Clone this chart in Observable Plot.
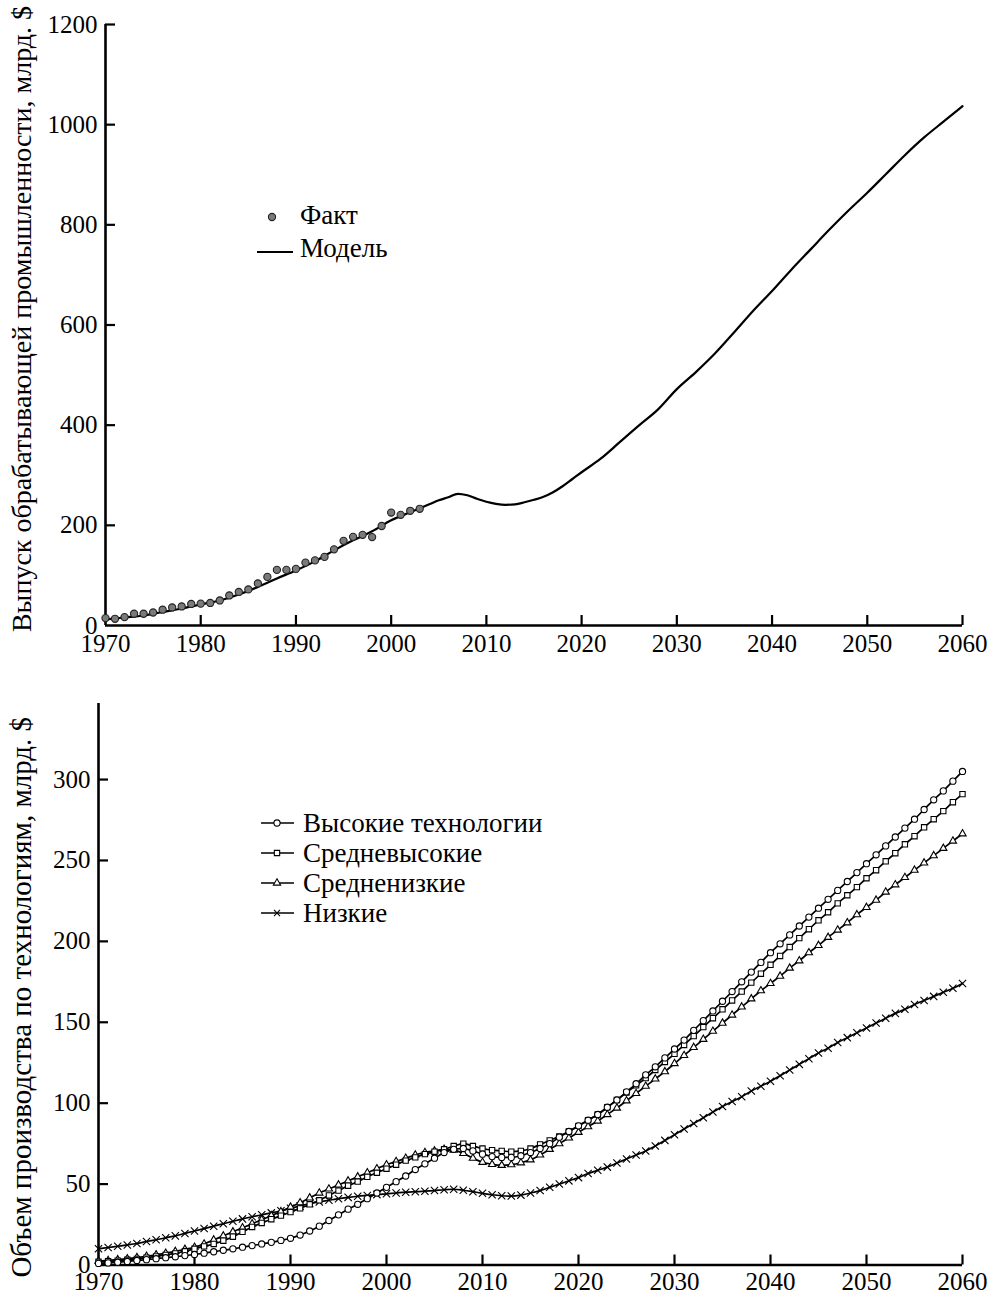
<!DOCTYPE html>
<html><head><meta charset="utf-8">
<script src="https://cdn.jsdelivr.net/npm/d3@7"></script>
<script src="https://cdn.jsdelivr.net/npm/@observablehq/plot@0.6"></script>
<style>
body{margin:0;background:#fff;}
#wrap{position:relative;width:989px;height:1293px;font-family:"Liberation Serif",Tinos,"Times New Roman","DejaVu Serif","Noto Serif",serif;color:#000;overflow:hidden;}
.lg{position:absolute;white-space:nowrap;line-height:30px;height:30px;color:#000;}
.lgs{position:absolute;}
</style></head><body><div id="wrap"></div>
<script>
// ---------- DATA ----------
const xTicks = [1970, 1980, 1990, 2000, 2010, 2020, 2030, 2040, 2050, 2060];
const topYTicks = [0, 200, 400, 600, 800, 1000, 1200];
const bottomYTicks = [0, 50, 100, 150, 200, 250, 300];

const topYLabel = "Выпуск обрабатывающей промышленности, млрд. $";
const bottomYLabel = "Объем производства по технологиям, млрд. $";

const topLegend = ["Факт", "Модель"];
const seriesNames = ["Высокие технологии", "Средневысокие", "Средненизкие", "Низкие"];

// Fact (1970..2003)
const factYears = [1970,1971,1972,1973,1974,1975,1976,1977,1978,1979,1980,1981,1982,1983,1984,1985,1986,1987,1988,1989,1990,1991,1992,1993,1994,1995,1996,1997,1998,1999,2000,2001,2002,2003];
const factValues = [14.8,13.4,16.8,23.5,23.5,26,31.5,36,38,43,43.6,45,50,60,67,72,84,97,111,111,113,125.5,130,137,152,169,177,181,176.5,198.7,225.5,221,229,233];

// Model
const modelYears = [1970,1972,1974,1976,1978,1980,1982,1984,1986,1988,1990,1992,1994,1996,1998,2000,2002,2004,2005,2006,2007,2008,2009,2010,2011,2012,2013,2014,2015,2016,2017,2018,2019,2020,2022,2024,2026,2028,2030,2032,2034,2036,2038,2040,2042,2044,2046,2048,2050,2052,2054,2056,2058,2060];
const modelValues = [12,16,20,27,34,42,50,62,77,94,110,128,150,170,188,210,226,242,250,256,263,260,253,247,243,241,242,246,251,257,266,278,292,306,333,366,399,431,472,506,543,585,628,668,710,750,790,828,864,902,940,975,1006,1037];

// Bottom chart (yearly 1970..2060)
const techYears = d3.range(1970, 2061);
const highTech = [
 1.0,1.3,1.7,2.2,2.8,3.3,3.9,4.5,5.1,5.8,
 6.5,7.3,8.2,9.1,10.0,11.0,12.0,13.0,14.0,15.2,
 16.5,18.5,21.0,24.0,27.5,31.0,34.5,37.5,41.0,44.5,
 48.0,51.5,55.0,59.0,62.5,66.0,69.5,71.5,72.0,70.5,
 68.5,67.0,66.5,66.5,67.5,69.5,72.0,75.0,79.0,82.5,
 86.0,89.5,93.0,97.5,102.0,107.0,112.0,117.5,122.5,128.0,
 133.5,139.0,145.0,151.0,157.0,163.0,169.0,175.0,181.0,187.0,
 193.0,198.5,204.0,209.5,215.0,220.5,226.0,231.5,237.0,242.5,
 248.0,253.5,259.0,264.5,270.0,275.5,281.5,287.5,293.0,299.0,
 305.0];
const midHighTech = [
 2.0,2.3,2.7,3.2,3.8,4.5,5.3,6.2,7.2,8.5,
 10.0,11.5,13.0,15.0,17.5,20.5,23.5,26.0,28.3,30.5,
 32.7,35.0,37.5,40.0,43.0,46.0,49.0,51.5,54.5,57.0,
 59.5,62.0,64.5,66.5,68.5,70.0,71.5,73.5,75.0,73.5,
 72.0,71.0,70.5,70.0,70.5,72.0,74.5,77.0,79.5,82.5,
 86.0,89.5,93.0,97.5,102.0,106.5,111.0,115.5,120.5,125.5,
 130.5,136.0,141.5,147.0,152.5,158.0,163.5,169.0,174.5,180.0,
 185.5,191.0,196.5,202.0,207.5,213.0,218.0,223.5,228.5,233.5,
 239.0,244.0,249.5,254.5,260.0,265.0,270.5,275.5,280.5,286.0,
 291.0];
const midLowTech = [
 2.4,2.8,3.3,3.9,4.6,5.4,6.3,7.3,8.4,9.7,
 11.0,13.0,15.5,18.0,20.5,23.0,25.5,28.0,30.5,33.0,
 35.8,38.5,41.5,44.5,47.0,49.5,52.0,54.5,57.0,59.5,
 62.0,64.0,66.0,68.0,69.5,70.5,71.5,71.0,69.0,66.0,
 63.5,62.2,61.6,62.0,63.2,65.0,68.0,71.5,75.0,78.5,
 82.0,85.5,89.0,93.0,97.0,101.5,106.0,110.5,115.0,119.5,
 124.5,129.5,134.5,139.5,144.5,149.5,154.5,159.5,164.5,169.5,
 174.0,178.5,183.5,188.0,193.0,197.5,202.5,207.0,211.5,216.5,
 221.0,225.5,230.5,235.0,239.5,244.0,248.5,253.0,257.5,262.0,
 266.5];
const lowTech = [
 10.0,10.8,11.6,12.4,13.3,14.5,15.6,16.8,18.0,19.5,
 21.0,22.5,24.0,25.5,27.0,28.5,29.8,31.0,32.2,33.5,
 35.0,36.5,38.0,39.0,40.0,41.0,41.8,42.5,43.0,43.5,
 44.0,44.5,45.0,45.3,45.6,46.0,46.5,46.8,46.2,45.3,
 44.3,43.4,42.8,42.6,43.2,44.5,46.0,48.0,50.0,52.0,
 54.0,56.5,58.5,60.5,63.0,65.5,68.0,70.5,73.5,77.0,
 80.5,84.0,87.5,91.0,94.5,98.0,101.0,104.0,107.5,110.5,
 113.5,117.0,120.5,124.0,127.5,131.0,134.0,137.5,140.5,143.5,
 146.5,149.5,152.5,155.5,158.0,161.0,163.5,166.0,168.5,171.0,
 174.0];

// ---------- BUILD ----------
const FONT = '"Liberation Serif", Tinos, "Times New Roman", "DejaVu Serif", "Noto Serif", serif';
const TICK_FS = 25, LABEL_FS_TOP = 28, LABEL_FS_BOTTOM = 29, LEGEND_FS = 27;
const wrap = document.getElementById("wrap");
const fmt = d => String(d);
const seriesValues = [highTech, midHighTech, midLowTech, lowTech];
const symbols = ["circle", "square", "triangle", "times"];
const symR = [3.1, 3.0, 2.7, 3.4];

function place(el, top) {
  el.style.position = "absolute"; el.style.left = "0px"; el.style.top = top + "px";
  wrap.appendChild(el);
}

const fact = factYears.map((y, i) => ({year: y, value: factValues[i]}));
const model = modelYears.map((y, i) => ({year: y, value: modelValues[i]}));

const topChart = Plot.plot({
  width: 989, height: 660,
  marginLeft: 105, marginRight: 27, marginTop: 24, marginBottom: 35,
  style: {fontFamily: FONT, fontSize: TICK_FS + "px", color: "#000", background: "transparent", overflow: "visible"},
  x: {domain: [1970, 2060]},
  y: {domain: [0, 1200]},
  marks: [
    Plot.axisX({ticks: xTicks, tickSize: 0, tickPadding: 9, tickFormat: fmt, label: null, fontSize: TICK_FS, fill: "#000", fontFamily: FONT}),
    Plot.axisY({ticks: topYTicks, tickSize: 0, tickPadding: 8, tickFormat: fmt, label: null, fontSize: TICK_FS, fill: "#000", fontFamily: FONT}),
    Plot.ruleX(xTicks.slice(1), {x: d => d, y1: 0, y2: 0, insetBottom: 10, strokeWidth: 2.2, stroke: "#000"}),
    Plot.ruleY(topYTicks.slice(1), {y: d => d, x1: 1970, x2: 1970, insetRight: -10, strokeWidth: 2.2, stroke: "#000"}),
    Plot.ruleY([0], {strokeWidth: 2.6, stroke: "#000"}),
    Plot.ruleX([1970], {strokeWidth: 2.6, stroke: "#000"}),
    Plot.line(model, {x: "year", y: "value", strokeWidth: 2.2, stroke: "#000", curve: "monotone-x"}),
    Plot.dot(fact, {x: "year", y: "value", r: 3.6, fill: "#7a7a7a", stroke: "#222", strokeWidth: 1.1}),
    Plot.text([topYLabel], {frameAnchor: "left", textAnchor: "middle", dx: -83, dy: -6, rotate: -90, fontSize: LABEL_FS_TOP, fill: "#000", fontFamily: FONT})
  ]
});
place(topChart, 0);

const techRows = [];
seriesNames.forEach((name, s) => techYears.forEach((y, i) => techRows.push({year: y, value: seriesValues[s][i], series: name})));

const bottomMarks = [
  Plot.axisX({ticks: xTicks, tickSize: 0, tickPadding: 7, tickFormat: fmt, label: null, fontSize: TICK_FS, fill: "#000", fontFamily: FONT}),
  Plot.axisY({ticks: bottomYTicks, tickSize: 0, tickPadding: 8, tickFormat: fmt, label: null, fontSize: TICK_FS, fill: "#000", fontFamily: FONT}),
  Plot.ruleX(xTicks.slice(1), {x: d => d, y1: 0, y2: 0, insetBottom: 10, strokeWidth: 2.2, stroke: "#000"}),
  Plot.ruleY(bottomYTicks.slice(1), {y: d => d, x1: 1970, x2: 1970, insetRight: -10, strokeWidth: 2.2, stroke: "#000"}),
  Plot.ruleY([0], {strokeWidth: 2.6, stroke: "#000"}),
  Plot.ruleX([1970], {strokeWidth: 2.6, stroke: "#000"})
];
seriesNames.slice().reverse().forEach(name => {
  const s = seriesNames.indexOf(name);
  const rows = techRows.filter(d => d.series === name);
  bottomMarks.push(Plot.line(rows, {x: "year", y: "value", strokeWidth: 1.7, stroke: "#000", curve: "monotone-x"}));
  bottomMarks.push(Plot.dot(rows, {x: "year", y: "value", symbol: symbols[s], r: symR[s],
    fill: symbols[s] === "times" ? "none" : "#fff", stroke: "#000", strokeWidth: 1.1}));
});
bottomMarks.push(Plot.text([bottomYLabel], {frameAnchor: "left", textAnchor: "middle", dx: -77, dy: 13, rotate: -90, fontSize: LABEL_FS_BOTTOM, fill: "#000", fontFamily: FONT}));

const bottomChart = Plot.plot({
  width: 989, height: 633,
  marginLeft: 98, marginRight: 27, marginTop: 43, marginBottom: 28.5,
  style: {fontFamily: FONT, fontSize: TICK_FS + "px", color: "#000", background: "transparent", overflow: "visible"},
  x: {domain: [1970, 2060]},
  y: {domain: [0, 347]},
  marks: bottomMarks
});
place(bottomChart, 660);

// ---------- LEGENDS ----------
function legendText(txt, left, cy, size) {
  const d = document.createElement("div");
  d.className = "lg"; d.textContent = txt;
  d.style.left = left + "px"; d.style.top = (cy - 15) + "px"; d.style.fontSize = size + "px";
  d.style.fontFamily = FONT;
  wrap.appendChild(d);
}
function legendSymbol(left, cy, w, drawFn) {
  const svg = d3.create("svg").attr("width", w).attr("height", 20).attr("class", "lgs")
    .style("left", left + "px").style("top", (cy - 10) + "px");
  drawFn(svg, w);
  wrap.appendChild(svg.node());
}
// top legend
legendSymbol(264, 217, 16, (svg) => {
  svg.append("circle").attr("cx", 8).attr("cy", 10).attr("r", 3.6).attr("fill", "#7a7a7a").attr("stroke", "#222").attr("stroke-width", 1.1);
});
legendText(topLegend[0], 300, 215, LEGEND_FS);
legendSymbol(257, 252, 36, (svg, w) => {
  svg.append("line").attr("x1", 0).attr("x2", w).attr("y1", 10).attr("y2", 10).attr("stroke", "#000").attr("stroke-width", 2.2);
});
legendText(topLegend[1], 300, 248, LEGEND_FS);

// bottom legend
const d3sym = {circle: d3.symbolCircle, square: d3.symbolSquare, triangle: d3.symbolTriangle, times: d3.symbolTimes};
const rowY = [823, 853, 883, 913];
seriesNames.forEach((name, s) => {
  legendSymbol(261, rowY[s], 33, (svg, w) => {
    svg.append("line").attr("x1", 0).attr("x2", w).attr("y1", 10).attr("y2", 10).attr("stroke", "#000").attr("stroke-width", 1.7);
    const r = symR[s];
    const size = symbols[s] === "times" ? r * r * 2.2 : Math.PI * r * r;
    svg.append("path").attr("d", d3.symbol(d3sym[symbols[s]], size)()).attr("transform", "translate(16,10)")
      .attr("fill", symbols[s] === "times" ? "none" : "#fff").attr("stroke", "#000").attr("stroke-width", 1.1);
  });
  legendText(name, 303, rowY[s], LEGEND_FS);
});
</script></body></html>
